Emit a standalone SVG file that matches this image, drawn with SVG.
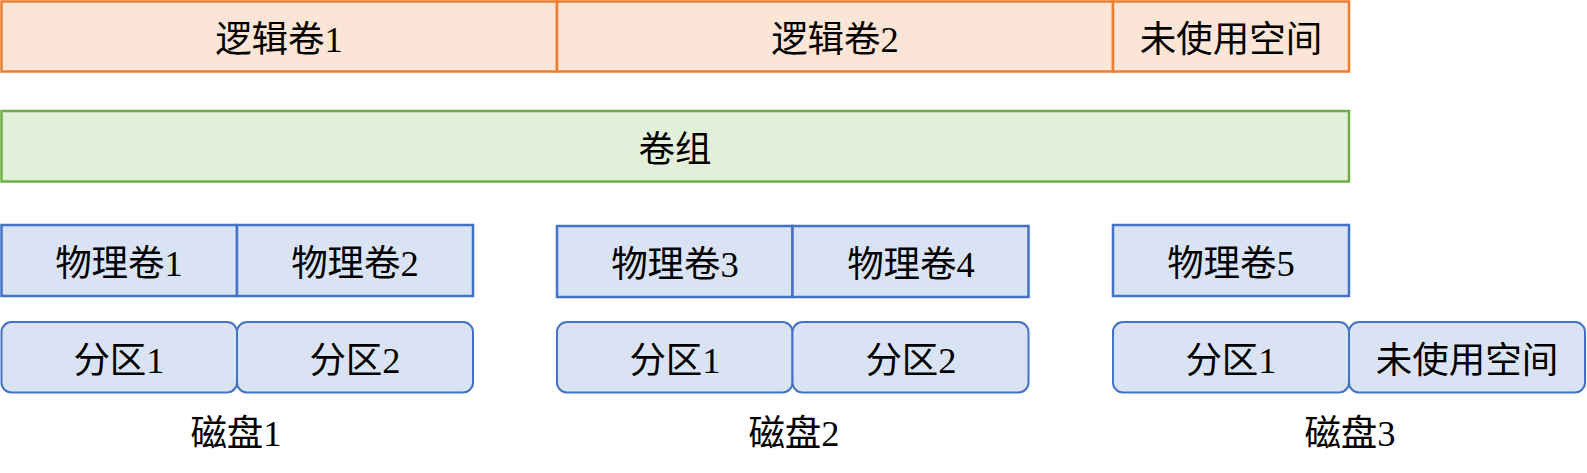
<svg xmlns="http://www.w3.org/2000/svg" width="1587" height="473" viewBox="0 0 1587 473">
<style>
text{font-family:"Liberation Serif","Noto Sans CJK SC",serif;font-size:36.5px;fill:#000;text-anchor:middle;dominant-baseline:central}
.lv{fill:#FBE5D6;stroke:#ED7D31;stroke-width:2.5}
.vg{fill:#E2F0D9;stroke:#70AD47;stroke-width:2.5}
.pv{fill:#DAE3F3;stroke:#4472C4;stroke-width:2.5}
.pt{fill:#DAE3F3;stroke:#4472C4;stroke-width:2}
</style>
<rect width="1587" height="473" fill="#fff"/>
<g id="lv1"><rect class="lv" x="1.5" y="1.5" width="555.5" height="70"/><text x="279" y="39">逻辑卷1</text></g>
<g id="lv2"><rect class="lv" x="557" y="1.5" width="556" height="70"/><text x="835" y="39">逻辑卷2</text></g>
<g id="lvfree"><rect class="lv" x="1113" y="1.5" width="236" height="70"/><text x="1231" y="39">未使用空间</text></g>
<g id="vg"><rect class="vg" x="1.5" y="111" width="1347.5" height="70.5"/><text x="675" y="149">卷组</text></g>
<g id="pv1"><rect class="pv" x="1.5" y="225" width="235.5" height="71"/><text x="119" y="263">物理卷1</text></g>
<g id="pv2"><rect class="pv" x="237" y="225" width="236" height="71"/><text x="355" y="263">物理卷2</text></g>
<g id="pv3"><rect class="pv" x="557" y="226" width="235.5" height="71"/><text x="675" y="264">物理卷3</text></g>
<g id="pv4"><rect class="pv" x="792.5" y="226" width="236" height="71"/><text x="911" y="264">物理卷4</text></g>
<g id="pv5"><rect class="pv" x="1113" y="225" width="236" height="71"/><text x="1231" y="263">物理卷5</text></g>
<g id="d1p1"><rect class="pt" x="1.5" y="322" width="235.5" height="70.5" rx="10"/><text x="119" y="360">分区1</text></g>
<g id="d1p2"><rect class="pt" x="237" y="322" width="236" height="70.5" rx="10"/><text x="355" y="360">分区2</text></g>
<g id="d2p1"><rect class="pt" x="557" y="322" width="235.5" height="70.5" rx="10"/><text x="675" y="360">分区1</text></g>
<g id="d2p2"><rect class="pt" x="792.5" y="322" width="236" height="70.5" rx="10"/><text x="911" y="360">分区2</text></g>
<g id="d3p1"><rect class="pt" x="1113" y="322" width="236" height="70.5" rx="10"/><text x="1231" y="360">分区1</text></g>
<g id="d3free"><rect class="pt" x="1349" y="322" width="236" height="70.5" rx="10"/><text x="1467" y="360">未使用空间</text></g>
<g id="disk1"><text x="236" y="433">磁盘1</text></g>
<g id="disk2"><text x="794" y="433">磁盘2</text></g>
<g id="disk3"><text x="1350" y="433">磁盘3</text></g>
<g id="connectors"></g>
</svg>
